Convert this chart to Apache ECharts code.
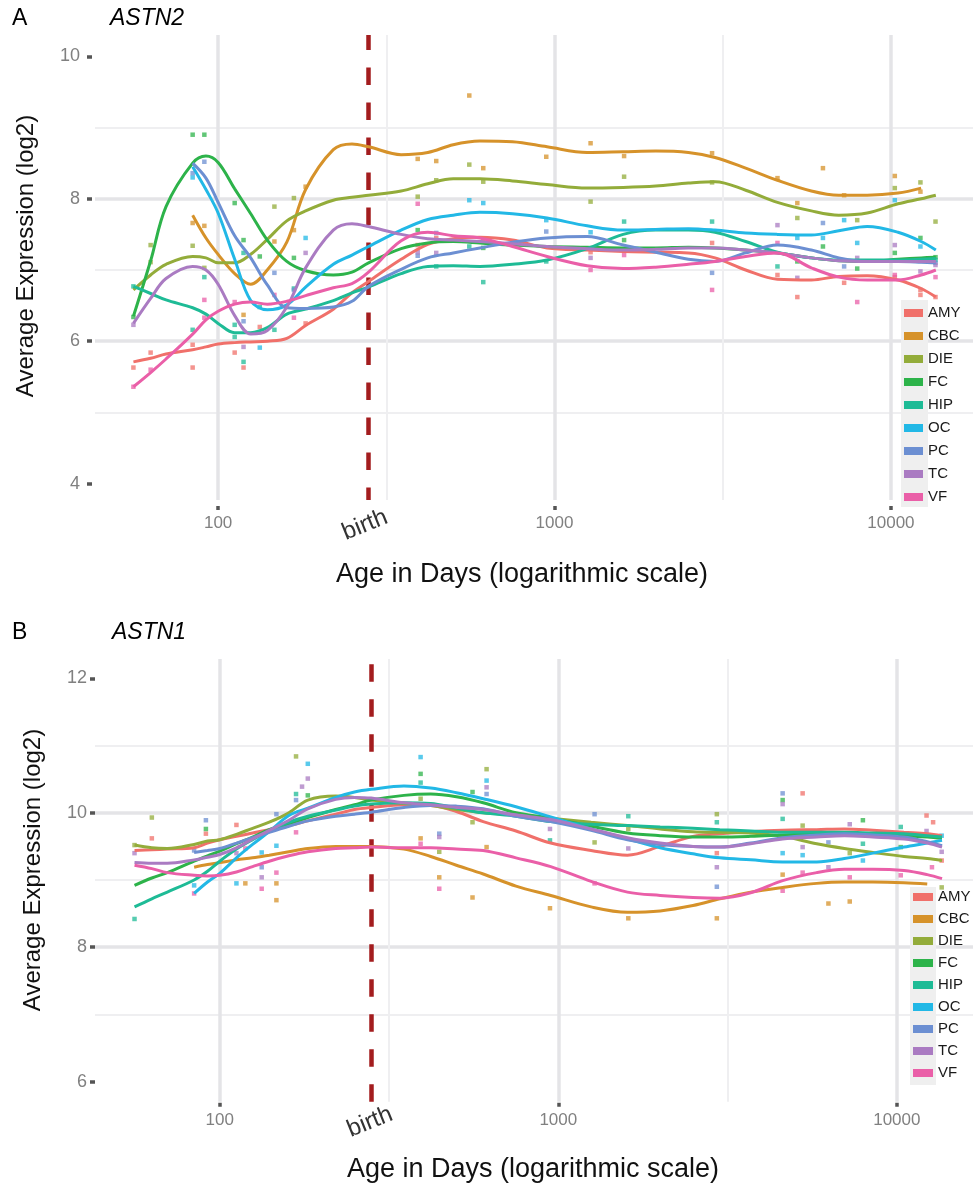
<!DOCTYPE html>
<html><head><meta charset="utf-8">
<script src="https://cdn.jsdelivr.net/npm/echarts@6/dist/echarts.min.js"></script>
<style>html,body{margin:0;padding:0;background:#fff}#c{width:973px;height:1183px}</style>
</head><body><div id="c"></div>
<script>
// ---------------- data ----------------
const REGIONS = ['AMY','CBC','DIE','FC','HIP','OC','PC','TC','VF'];
const X_TICKS = [100, 1000, 10000];
const Y_TICKS_A = [4, 6, 8, 10];
const Y_TICKS_B = [6, 8, 10, 12];
const BIRTH_DAY = 280;
const MINOR_X = [316.23, 3162.3];
// ages (days) at which the smoothed curves are read
const AGES = [56,63,70,84,92,100,112,125,140,160,182,220,250,280,350,420,500,600,750,950,1250,1600,2000,2500,3000,3700,4600,5800,7000,8500,10500,12300,13600];

// ASTN2 smoothed curves
const A2_AMY = [5.71,5.76,5.82,5.88,5.92,5.96,5.98,5.99,6.00,6.04,6.22,6.45,6.68,6.84,7.15,7.36,7.44,7.46,7.42,7.31,7.28,7.26,7.25,7.24,7.17,7.00,6.87,6.86,6.91,6.92,6.86,6.74,6.62];
const A2_CBC = [null,null,null,7.77,7.45,7.22,6.95,6.80,7.00,7.39,8.13,8.69,8.77,8.73,8.62,8.65,8.76,8.81,8.80,8.73,8.65,8.66,8.67,8.65,8.58,8.43,8.26,8.11,8.05,8.05,8.08,8.15,null];
const A2_DIE = [6.72,6.93,7.08,7.19,7.17,7.10,7.10,7.22,7.43,7.69,7.83,7.98,8.02,8.05,8.11,8.21,8.28,8.28,8.25,8.20,8.15,8.16,8.18,8.22,8.24,8.12,7.95,7.83,7.77,7.80,7.93,8.00,8.05];
const A2_FC  = [6.35,7.13,7.89,8.50,8.60,8.51,8.14,7.79,7.42,7.12,6.99,6.93,6.97,7.10,7.30,7.38,7.40,7.38,7.35,7.33,7.32,7.31,7.31,7.32,7.31,7.28,7.24,7.17,7.13,7.12,7.15,7.17,7.18];
const A2_HIP = [6.77,6.67,6.58,6.47,6.38,6.25,6.12,6.12,6.19,6.38,6.45,6.57,6.68,6.76,6.95,7.05,7.06,7.05,7.08,7.14,7.30,7.50,7.56,7.56,7.53,7.40,7.25,7.17,7.14,7.14,7.14,7.15,7.16];
const A2_OC  = [null,null,null,8.45,8.13,7.80,7.15,6.57,6.44,6.51,6.76,7.08,7.21,7.33,7.56,7.71,7.77,7.81,7.79,7.73,7.62,7.56,7.57,7.58,7.56,7.52,7.50,7.49,7.55,7.61,7.53,7.40,7.28];
const A2_PC  = [null,null,null,8.50,8.29,7.95,7.48,7.17,6.79,6.47,6.46,6.48,6.56,6.77,7.01,7.17,7.24,7.31,7.39,7.45,7.47,7.35,7.25,7.15,7.12,7.24,7.35,7.28,7.17,7.12,7.12,7.11,7.10];
const A2_TC  = [6.25,6.60,6.88,7.05,7.00,6.80,6.36,6.10,6.15,6.48,7.03,7.56,7.65,7.61,7.50,7.44,7.42,7.40,7.37,7.33,7.30,7.28,7.29,7.31,7.31,7.28,7.24,7.17,7.13,7.12,7.12,7.12,7.12];
const A2_VF  = [5.36,5.56,5.75,6.10,6.30,6.42,6.52,6.55,6.52,6.56,6.64,6.75,6.81,6.97,7.41,7.53,7.48,7.45,7.33,7.19,7.06,7.02,7.04,7.08,7.12,7.19,7.24,7.03,6.90,6.86,6.86,6.93,7.00];

// ASTN1 smoothed curves
const A1_AMY = [9.44,9.45,9.46,9.48,9.55,9.60,9.65,9.70,9.75,9.81,9.88,9.98,10.05,10.08,10.12,10.11,10.02,9.87,9.73,9.55,9.44,9.37,9.50,9.65,9.69,9.72,9.74,9.75,9.76,9.74,9.71,9.69,9.66];
const A1_CBC = [null,null,null,9.19,9.23,9.26,9.30,9.33,9.37,9.42,9.47,9.50,9.50,9.50,9.46,9.35,9.22,9.09,8.91,8.77,8.60,8.52,8.54,8.62,8.72,8.82,8.89,8.95,8.97,8.97,8.96,8.94,null];
const A1_DIE = [9.52,9.48,9.47,9.53,9.58,9.60,9.68,9.77,9.86,10.00,10.19,10.25,10.23,10.19,10.14,10.11,10.05,10.00,9.97,9.92,9.86,9.81,9.76,9.72,9.71,9.70,9.65,9.54,9.47,9.41,9.35,9.32,9.29];
const A1_FC  = [8.92,9.03,9.11,9.28,9.36,9.43,9.54,9.64,9.75,9.84,9.93,10.05,10.12,10.19,10.26,10.28,10.24,10.15,10.00,9.92,9.80,9.70,9.66,9.64,9.64,9.65,9.67,9.69,9.69,9.69,9.66,9.64,9.62];
const A1_HIP = [8.60,8.72,8.82,9.00,9.13,9.28,9.46,9.60,9.73,9.86,9.95,10.04,10.10,10.13,10.15,10.14,10.07,10.00,9.95,9.87,9.83,9.81,9.79,9.77,9.75,9.73,9.71,9.71,9.71,9.70,9.69,9.66,9.64];
const A1_OC  = [null,null,null,8.80,8.97,9.10,9.33,9.53,9.72,9.96,10.07,10.23,10.31,10.35,10.40,10.37,10.30,10.21,10.09,9.94,9.76,9.61,9.48,9.39,9.33,9.30,9.27,9.27,9.32,9.40,9.49,9.55,9.59];
const A1_PC  = [null,null,null,9.41,9.44,9.47,9.55,9.63,9.71,9.80,9.88,9.95,9.98,10.01,10.08,10.11,10.10,10.06,9.95,9.87,9.74,9.60,9.53,9.50,9.49,9.55,9.63,9.67,9.69,9.67,9.64,9.57,9.51];
const A1_TC  = [9.26,9.25,9.25,9.30,9.34,9.38,9.48,9.61,9.74,9.89,10.06,10.20,10.23,10.22,10.15,10.12,10.08,10.05,9.97,9.90,9.76,9.63,9.55,9.50,9.49,9.54,9.61,9.64,9.66,9.64,9.61,9.55,9.49];
const A1_VF  = [9.22,9.17,9.11,9.07,9.06,9.07,9.12,9.20,9.28,9.36,9.42,9.47,9.48,9.49,9.48,9.48,9.46,9.44,9.33,9.20,8.98,8.82,8.77,8.74,8.73,8.81,8.99,9.11,9.16,9.16,9.14,9.08,9.02];

// ASTN2 sample points [age, value]
const P2_AMY = [[56,5.63],[63,5.84],[84,5.95],[84,5.63],[112,5.84],[119,5.63],[133,6.2],[182,6.25],[392,7.35],[445,7.45],[614,7.42],[1280,7.25],[2940,7.38],[4600,6.93],[5270,6.62],[7260,6.82],[10270,6.9],[12240,6.72],[12240,6.65],[13570,6.62]];
const P2_CBC = [[84,7.66],[91,7.62],[119,6.37],[147,7.4],[168,7.56],[182,8.17],[392,8.56],[445,8.53],[558,9.45],[614,8.43],[945,8.59],[1280,8.78],[1610,8.6],[2940,8.64],[4600,8.29],[5270,7.94],[6280,8.43],[7260,8.05],[10270,8.32],[12240,8.1]];
const P2_DIE = [[63,7.35],[63,7.11],[84,7.34],[91,7.03],[147,7.89],[168,8.01],[392,8.03],[445,8.26],[558,8.48],[614,8.24],[1280,7.96],[1610,8.31],[2940,8.23],[5270,7.73],[7940,7.7],[10270,8.15],[12240,8.23],[13570,7.68]];
const P2_FC  = [[56,6.34],[84,8.9],[91,8.9],[112,7.94],[119,7.42],[133,7.19],[168,7.17],[392,7.56],[614,7.31],[1610,7.42],[5270,7.12],[6280,7.33],[7940,7.02],[10270,7.24],[12240,7.45],[13570,7.18]];
const P2_HIP = [[56,6.77],[84,6.16],[91,6.9],[112,6.23],[112,6.06],[119,5.71],[119,7.24],[133,6.48],[147,6.16],[168,6.74],[445,7.05],[558,7.33],[614,6.83],[945,7.12],[1610,7.68],[2940,7.68],[4600,7.05],[13570,7.14]];
const P2_OC  = [[84,8.3],[133,5.91],[182,7.45],[558,7.98],[614,7.94],[945,7.7],[1280,7.53],[5270,7.45],[6280,7.45],[7260,7.7],[7940,7.38],[10270,7.98],[12240,7.33]];
const P2_PC  = [[84,8.36],[91,8.52],[119,6.28],[147,6.96],[168,6.72],[392,7.2],[445,7.52],[945,7.54],[2940,6.96],[6280,7.66],[7260,7.05],[13570,7.1]];
const P2_TC  = [[56,6.23],[119,5.92],[182,7.24],[392,7.25],[445,7.24],[1280,7.17],[4600,7.63],[5270,6.89],[7940,7.17],[10270,7.35],[12240,6.98],[13570,7.07]];
const P2_VF  = [[56,5.36],[63,5.6],[91,6.58],[91,6.33],[112,6.55],[147,6.65],[168,6.33],[392,7.93],[1280,7.0],[1610,7.21],[2940,6.72],[4600,7.38],[7940,6.55],[10270,6.93],[13570,6.9]];

// ASTN1 sample points [age, value]
const P1_AMY = [[63,9.62],[91,9.69],[112,9.82],[2940,9.4],[5270,10.29],[12240,9.96],[12800,9.86],[13570,9.29]];
const P1_CBC = [[119,8.95],[147,8.95],[147,8.7],[392,9.62],[445,9.04],[558,8.74],[614,9.49],[945,8.58],[1610,8.43],[2940,8.43],[4600,9.08],[6280,8.65],[7260,8.68]];
const P1_DIE = [[56,9.52],[63,9.93],[168,10.84],[392,10.21],[445,9.42],[558,9.86],[614,10.65],[1280,9.56],[1610,9.76],[2940,9.98],[5270,9.81],[7260,9.4],[13570,8.89]];
const P1_FC  = [[91,9.76],[182,10.26],[392,10.58],[558,10.31],[4600,10.19],[7940,9.89],[10270,9.49]];
const P1_HIP = [[56,8.42],[168,10.28],[392,10.45],[945,9.59],[1610,9.95],[2940,9.86],[4600,9.91],[7940,9.54],[10270,9.79]];
const P1_OC  = [[84,8.92],[112,8.95],[133,9.41],[147,9.51],[182,10.73],[392,10.83],[614,10.48],[4600,9.4],[5270,9.37],[7940,9.29],[13570,9.66]];
const P1_PC  = [[84,9.44],[91,9.89],[133,9.19],[147,9.98],[168,10.19],[445,9.69],[614,10.28],[1280,9.98],[2940,8.9],[4600,10.29],[6280,9.56]];
const P1_TC  = [[56,9.4],[112,9.4],[133,9.04],[175,10.39],[182,10.51],[445,9.64],[614,10.38],[945,9.76],[1610,9.47],[2940,9.19],[4600,10.13],[5270,9.49],[6280,9.19],[7260,9.83],[12240,9.73],[13570,9.42]];
const P1_VF  = [[84,8.8],[119,9.47],[133,8.87],[147,9.11],[168,9.71],[392,9.54],[445,8.87],[1280,8.95],[4600,8.84],[5270,9.11],[7260,9.04],[10270,9.07],[12700,9.19]];

// ---------------- chart ----------------
const A2_CURVES = [A2_AMY,A2_CBC,A2_DIE,A2_FC,A2_HIP,A2_OC,A2_PC,A2_TC,A2_VF];
const A1_CURVES = [A1_AMY,A1_CBC,A1_DIE,A1_FC,A1_HIP,A1_OC,A1_PC,A1_TC,A1_VF];
const A2_POINTS = [P2_AMY,P2_CBC,P2_DIE,P2_FC,P2_HIP,P2_OC,P2_PC,P2_TC,P2_VF];
const A1_POINTS = [P1_AMY,P1_CBC,P1_DIE,P1_FC,P1_HIP,P1_OC,P1_PC,P1_TC,P1_VF];

const COLORS = ['#F0706A','#D6922A','#93AC3A','#2DB34A','#1EBB96','#22B8E6','#6C8FD2','#AA7BC2','#EA5FA8'];
const FONT = '"Liberation Sans", Arial, Helvetica, sans-serif';
const GRID_MAJOR = '#e4e4e7', GRID_MINOR = '#efeff1';

function curveData(vals){ return AGES.map((a,i)=>[a, vals[i]]).filter(d=>d[1]!=null); }

function makeX(gi, min, max, offset, margin){
  return {type:'log', logBase:10, gridIndex:gi, min:min, max:max, offset:offset,
    axisLine:{show:false},
    axisTick:{show:true, length:4, lineStyle:{color:'#555', width:3.5}, customValues:X_TICKS},
    axisLabel:{customValues:X_TICKS, margin:margin, fontSize:17, color:'#808080', fontFamily:FONT, formatter:v=>String(Math.round(v))},
    splitLine:{show:false},
    minorTick:{show:false}, minorSplitLine:{show:false}};
}
function makeY(gi, min, max, ticks, margin, offset){
  return {type:'value', gridIndex:gi, min:min, max:max, minInterval:2, maxInterval:2, offset:offset,
    axisLine:{show:false},
    axisTick:{show:true, length:5, lineStyle:{color:'#555', width:3.5}, customValues:ticks},
    axisLabel:{customValues:ticks, margin:margin, fontSize:18, color:'#808080', fontFamily:FONT},
    splitLine:{show:true, lineStyle:{color:GRID_MAJOR, width:3.5}, showMinLine:false, showMaxLine:false},
    minorTick:{show:false, splitNumber:2},
    minorSplitLine:{show:true, lineStyle:{color:GRID_MINOR, width:2}}};
}

const series = [];
[[A2_CURVES, A2_POINTS, 0, 5],[A1_CURVES, A1_POINTS, 1, 0]].forEach(([curves, pts, gi, dashOff])=>{
  const vlines = [];
  X_TICKS.forEach(v=>vlines.push({xAxis:v, lineStyle:{color:GRID_MAJOR, width:3.5, type:'solid'}}));
  MINOR_X.forEach(v=>vlines.push({xAxis:v, lineStyle:{color:GRID_MINOR, width:2, type:'solid'}}));
  series.push({type:'line', xAxisIndex:gi, yAxisIndex:gi, data:[], silent:true, z:0,
    markLine:{silent:true, symbol:'none', animation:false, z:0, label:{show:false}, data:vlines}});
  series.push({type:'line', xAxisIndex:gi, yAxisIndex:gi, data:[], silent:true, z:1,
    markLine:{silent:true, symbol:'none', animation:false, z:1, label:{show:false},
      data:[{xAxis:BIRTH_DAY, lineStyle:{color:'#a31c1e', width:4.5, type:[17.5,17.5], dashOffset:dashOff}}]}});
  REGIONS.forEach((r,i)=>{
    series.push({name:r, type:'line', xAxisIndex:gi, yAxisIndex:gi, data:curveData(curves[i]),
      smooth:0.35, showSymbol:false, symbol:'none', lineStyle:{color:COLORS[i], width:3},
      itemStyle:{color:COLORS[i]}, z:4, silent:true, animation:false});
    series.push({name:r, type:'scatter', xAxisIndex:gi, yAxisIndex:gi, data:pts[i],
      symbol:'rect', symbolSize:4.5, itemStyle:{color:COLORS[i], opacity:0.75}, z:2, silent:true, animation:false});
  });
});

const legendBase = {data:REGIONS, orient:'vertical', itemWidth:19, itemHeight:8, icon:'rect', padding:0,
  selectedMode:false, z:20, textStyle:{fontSize:15, color:'#1a1a1a', fontFamily:FONT, lineHeight:16}};

const txt = (text, x, y, size, extra) => Object.assign({type:'text', x:x, y:y, z:30, silent:true,
  style:Object.assign({text:text, fontSize:size, fontFamily:FONT, fill:'#000', align:'left', verticalAlign:'middle'}, extra||{})});

const option = {
  animation:false,
  backgroundColor:'#fff',
  grid:[
    {left:95, right:0, top:35, height:465, containLabel:false, outerBoundsMode:'none'},
    {left:95, right:0, top:659, height:442.7, containLabel:false, outerBoundsMode:'none'}
  ],
  xAxis:[ makeX(0, 43.05, 17540, 6, 9), makeX(1, 42.8, 16790, 1, 9) ],
  yAxis:[ makeY(0, 3.77, 10.30, Y_TICKS_A, 12, 3), makeY(1, 5.70, 12.29, Y_TICKS_B, 8, 0) ],
  legend:[
    Object.assign({}, legendBase, {left:904, top:305, itemGap:7}),
    Object.assign({}, legendBase, {left:913, top:889, itemGap:6, itemWidth:20})
  ],
  series:series,
  graphic:[
    {type:'rect', z:10, silent:true, shape:{x:901, y:300, width:27, height:207}, style:{fill:'#efefef'}},
    {type:'rect', z:10, silent:true, shape:{x:910, y:887, width:26, height:198}, style:{fill:'#efefef'}},
    txt('A', 12, 18.5, 23),
    txt('ASTN2', 110, 18.5, 23, {fontStyle:'italic'}),
    txt('B', 12, 633, 23),
    txt('ASTN1', 112, 633, 23, {fontStyle:'italic'}),
    txt('Age in Days (logarithmic scale)', 522, 575, 27, {align:'center', fill:'#111'}),
    txt('Age in Days (logarithmic scale)', 533, 1170, 27, {align:'center', fill:'#111'}),
    Object.assign(txt('Average Expression (log2)', 26.5, 256, 24, {align:'center', fill:'#111'}), {rotation:Math.PI/2}),
    Object.assign(txt('Average Expression (log2)', 33, 870, 24, {align:'center', fill:'#111'}), {rotation:Math.PI/2}),
    Object.assign(txt('birth', 365, 525, 24, {align:'center', fill:'#333'}), {rotation:22*Math.PI/180}),
    Object.assign(txt('birth', 370, 1122, 24, {align:'center', fill:'#333'}), {rotation:22*Math.PI/180})
  ]
};

const chart = echarts.init(document.getElementById('c'), null, {renderer:'canvas', width:973, height:1183});
chart.setOption(option);
</script>
</body></html>
